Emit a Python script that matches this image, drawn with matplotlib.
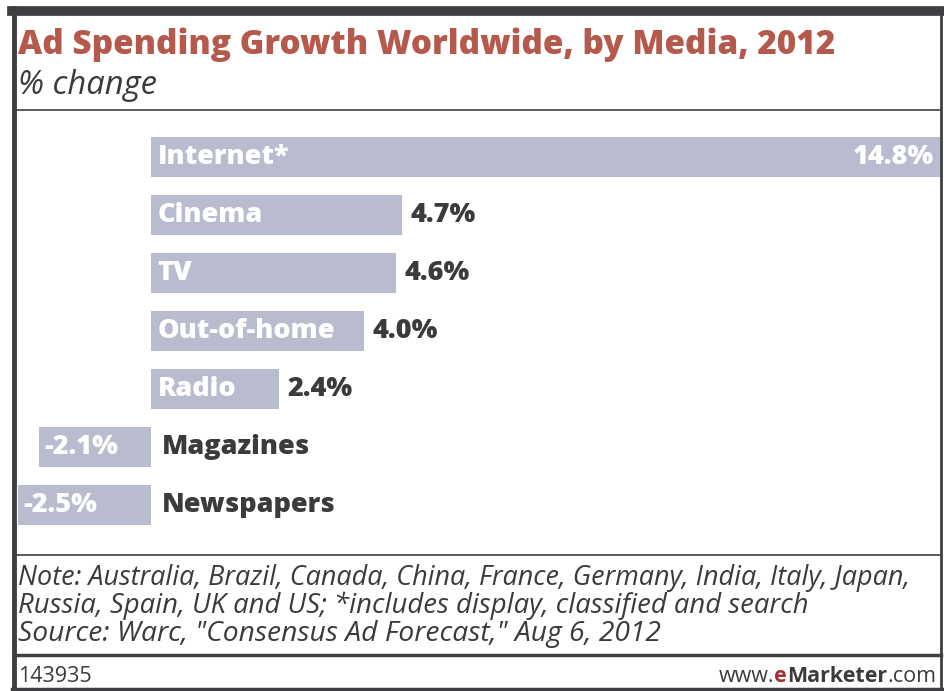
import matplotlib
matplotlib.use("Agg")
import matplotlib.pyplot as plt
from matplotlib.lines import Line2D

# Data
media = ["Internet*", "Cinema", "TV", "Out-of-home", "Radio", "Magazines", "Newspapers"]
growth = [14.8, 4.7, 4.6, 4.0, 2.4, -2.1, -2.5]

title = "Ad Spending Growth Worldwide, by Media, 2012"
subtitle = "% change"
note_lines = [
    "Note: Australia, Brazil, Canada, China, France, Germany, India, Italy, Japan,",
    "Russia, Spain, UK and US; *includes display, classified and search",
    'Source: Warc, "Consensus Ad Forecast," Aug 6, 2012',
]
chart_id = "143935"

W, H = 944, 691
BAR = "#b9bccf"
DARK = "#3b3b3d"
TITLE_RED = "#b5594c"
FRAME = "#3d3f42"

plt.rcParams["font.family"] = ["Open Sans", "DejaVu Sans"]

fig = plt.figure(figsize=(W / 100, H / 100), dpi=100)
fig.patch.set_facecolor("white")
renderer = fig.canvas.get_renderer()


def fx(px):
    return px / W


def fy(py):
    return 1 - py / H


def fit_text(s, x_px, y_px, width_px, size=16, **kw):
    """Place text at a pixel anchor and scale its size to span width_px."""
    t = fig.text(fx(x_px), fy(y_px), s, fontsize=size, va="center", ha="left", **kw)
    w = t.get_window_extent(renderer).width
    t.set_fontsize(size * width_px / w)
    return t


# Bar axes: zero sits at x=151px, 14.8% reaches the right frame
x_left_px, x_right_px = 10, 940
zero_px = 151
per_unit = (x_right_px - zero_px) / growth[0]
xmin = (x_left_px - zero_px) / per_unit
top_px, bot_px = 128, 534
ax = fig.add_axes([fx(x_left_px), fy(bot_px), fx(x_right_px - x_left_px), (bot_px - top_px) / H])
ypos = list(range(len(media)))
ax.barh(ypos, growth, height=0.69, color=BAR, edgecolor="none", zorder=1)
ax.set_xlim(xmin, growth[0])
ax.set_ylim(len(media) - 0.5, -0.5)
ax.axis("off")

lab_fs = 19.5
lab_w = "heavy"
pad = 0.12
for y, name, v in zip(ypos, media, growth):
    if v > 0:
        ax.text(pad, y, name, color="white", fontsize=lab_fs, fontweight=lab_w,
                va="center", ha="left", zorder=3)
        if v >= 10:
            ax.text(v - 0.12, y, f"{v:.1f}%", color="white", fontsize=lab_fs,
                    fontweight=lab_w, va="center", ha="right", zorder=3)
        else:
            ax.text(v + 0.16, y, f"{v:.1f}%", color=DARK, fontsize=lab_fs,
                    fontweight=lab_w, va="center", ha="left", zorder=3)
    else:
        ax.text(v + 0.1, y, f"{v:.1f}%", color="white", fontsize=lab_fs,
                fontweight=lab_w, va="center", ha="left", zorder=3)
        ax.text(0.2, y, name, color=DARK, fontsize=lab_fs, fontweight=lab_w,
                va="center", ha="left", zorder=3)

# Header
fit_text(title, 18, 45, 814, size=22, color=TITLE_RED, fontweight="heavy")
fit_text(subtitle, 18, 85, 139, size=20, color=DARK, style="italic")

# Notes
for i, line, wpx in zip(range(3), note_lines, [894, 793, 645]):
    fit_text(line, 18, 578 + 28 * i, wpx, size=16, color=DARK, style="italic")

# Footer
fig.text(fx(18), fy(676), chart_id, color=DARK, fontsize=15.5, va="center", ha="left")
t3 = fig.text(fx(936), fy(676), ".com", color=DARK, fontsize=15.5, va="center", ha="right")
bb = t3.get_window_extent(renderer)
t2 = fig.text(bb.x0 / W, fy(676), "Marketer", color=DARK, fontsize=15.5, fontweight="bold",
              va="center", ha="right")
bb = t2.get_window_extent(renderer)
t1 = fig.text(bb.x0 / W, fy(676), "e", color="#a3313a", fontsize=15.5, fontweight="bold",
              va="center", ha="right")
bb = t1.get_window_extent(renderer)
fig.text(bb.x0 / W, fy(676), "www.", color=DARK, fontsize=15.5, va="center", ha="right")


# Frame and separators
def hline(y, x0, x1, lw, color=FRAME):
    fig.add_artist(Line2D([fx(x0), fx(x1)], [fy(y), fy(y)], lw=lw, color=color,
                          transform=fig.transFigure))


def vline(x, y0, y1, lw, color=FRAME):
    fig.add_artist(Line2D([fx(x), fx(x)], [fy(y0), fy(y1)], lw=lw, color=color,
                          transform=fig.transFigure))


hline(11, 12, 942, 7)
vline(14, 8, 691, 3.5)
vline(941, 8, 691, 2)
hline(689, 12, 942, 2.5)
hline(110, 14, 941, 1.2)
hline(555, 14, 941, 1.2)
hline(655, 14, 941, 2.5)

fig.savefig("out.png", dpi=100, facecolor="white")
